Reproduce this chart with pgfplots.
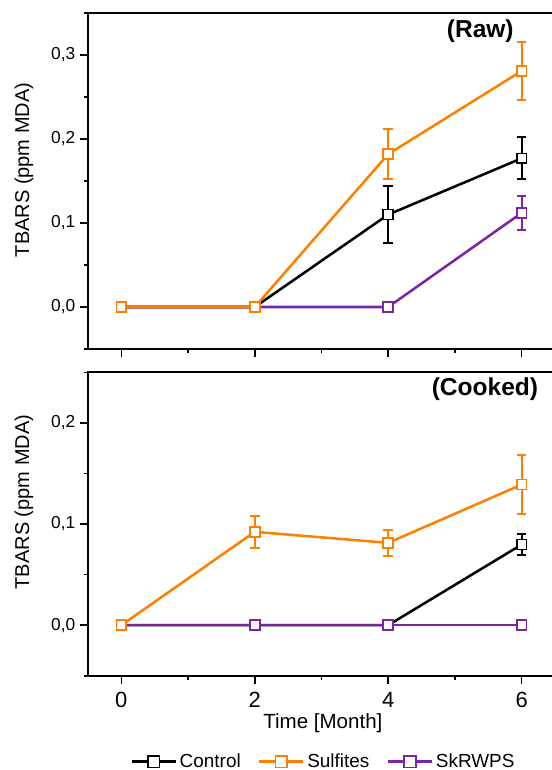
\documentclass[border=0pt]{standalone}
\usepackage{pgfplots}
\pgfplotsset{compat=1.18}
\usepackage{fontspec}
\setmainfont{Liberation Sans}
\definecolor{corange}{RGB}{255,128,0}
\definecolor{cpurple}{RGB}{125,35,165}
\pgfplotsset{
  panel/.style={
    scale only axis,
    width=350.25pt,
    xmin=-0.5, xmax=6.5,
    xtick={0,2,4,6}, minor xtick={1,3,5},
    xtick pos=bottom, ytick pos=left,
    tick align=outside,
    major tick length=6pt, minor tick length=3.2pt,
    every tick/.style={black, line width=1.2pt},
    axis line style={line width=1.3pt},
    /pgf/number format/assume math mode=true,
    /pgf/number format/.cd, use comma, fixed, fixed zerofill, precision=1, /pgfplots/.cd,
    yticklabel style={font=\fontsize{13}{14}\selectfont},
    xticklabel style={font=\fontsize{16.5}{18}\selectfont, yshift=-3pt},
    ylabel={TBARS (ppm MDA)},
    every axis y label/.style={rotate=90, anchor=center, font=\fontsize{15}{17}\selectfont},
    every axis x label/.style={anchor=center, font=\fontsize{15.4}{17}\selectfont, at={(axis description cs:0.503,-0.158)}},
    clip=false,
  },
  ser/.style={line width=1.9pt, color=#1, mark=square*, mark size=3.7pt,
    mark options={fill=white, draw=#1, line width=1.2pt, solid}},
  eb/.style={forget plot, only marks, mark=none,
    error bars/.cd, y dir=both, y explicit,
    error bar style={color=#1, line width=1.5pt},
    error mark options={rotate=90, mark size=3.6pt, color=#1, line width=1.5pt}},
}
\begin{document}
\begin{tikzpicture}
% ---------------- Raw ----------------
\begin{axis}[panel,
  at={(66pt,-261.75pt)}, anchor=south west,
  height=252pt,
  ymin=-0.05, ymax=0.35,
  ytick={0,0.1,0.2,0.3}, minor ytick={-0.05,0.05,0.15,0.25,0.35},
  xticklabels={},
  every axis y label/.append style={at={(axis description cs:-0.137,0.533)}},
]
% Control
\addplot[eb=black] coordinates {(4,0.110) +- (0,0.034) (6,0.177) +- (0,0.025)};
\addplot[ser=black, forget plot] coordinates {(0,0) (2,0) (4,0.110) (6,0.177)};
% SkRWPS
\addplot[eb=cpurple] coordinates {(6,0.112) +- (0,0.020)};
\addplot[ser=cpurple, forget plot] coordinates {(0,0) (2,0) (4,0) (6,0.112)};
% Sulfites
\addplot[eb=corange] coordinates {(4,0.182) +- (0,0.030) (6,0.281) +- (0,0.034)};
\addplot[ser=corange, forget plot] coordinates {(0,0) (2,0) (4,0.182) (6,0.281)};
\node[font=\bfseries\fontsize{18.4}{20}\selectfont] at (axis cs:5.38,0.328) {(Raw)};
\end{axis}
% ---------------- Cooked ----------------
\begin{axis}[panel,
  at={(66pt,-506.8pt)}, anchor=south west,
  height=227.55pt,
  ymin=-0.05, ymax=0.25,
  ytick={0,0.1,0.2}, minor ytick={-0.05,0.05,0.15,0.25},
  xticklabels={0,2,4,6},
  xlabel={Time [Month]},
  every axis y label/.append style={at={(axis description cs:-0.137,0.5725)}},
  legend columns=3,
  legend style={at={(axis description cs:0.505,-0.2835)}, anchor=center,
    draw=none, fill=none, font=\fontsize{14.2}{16}\selectfont,
    /tikz/every even column/.append style={column sep=11pt},
    inner sep=0pt},
  legend image code/.code={\draw[mark repeat=2, mark phase=2, #1, mark size=4.4pt] plot coordinates {(0pt,0pt) (16.5pt,0pt) (33pt,0pt)};},
]
% Control
\addplot[eb=black] coordinates {(6,0.0797) +- (0,0.0105)};
\addplot[ser=black, forget plot] coordinates {(0,0) (2,0) (4,0) (6,0.0797)};
% SkRWPS
\addplot[ser=cpurple, forget plot] coordinates {(0,0) (2,0) (4,0) (6,0)};
% Sulfites
\addplot[eb=corange] coordinates {(2,0.0923) +- (0,0.016) (4,0.0814) +- (0,0.0128) (6,0.139) +- (0,0.029)};
\addplot[ser=corange, forget plot] coordinates {(0,0) (2,0.0923) (4,0.0814) (6,0.139)};
\node[font=\bfseries\fontsize{18.4}{20}\selectfont] at (axis cs:5.45,0.2335) {(Cooked)};
\addlegendimage{ser=black}
\addlegendentry{Control}
\addlegendimage{ser=corange}
\addlegendentry{Sulfites}
\addlegendimage{ser=cpurple}
\addlegendentry{SkRWPS}
\end{axis}
\pgfresetboundingbox
\useasboundingbox (0,0) rectangle (413.25pt,-577.5pt);
\end{tikzpicture}
\end{document}
